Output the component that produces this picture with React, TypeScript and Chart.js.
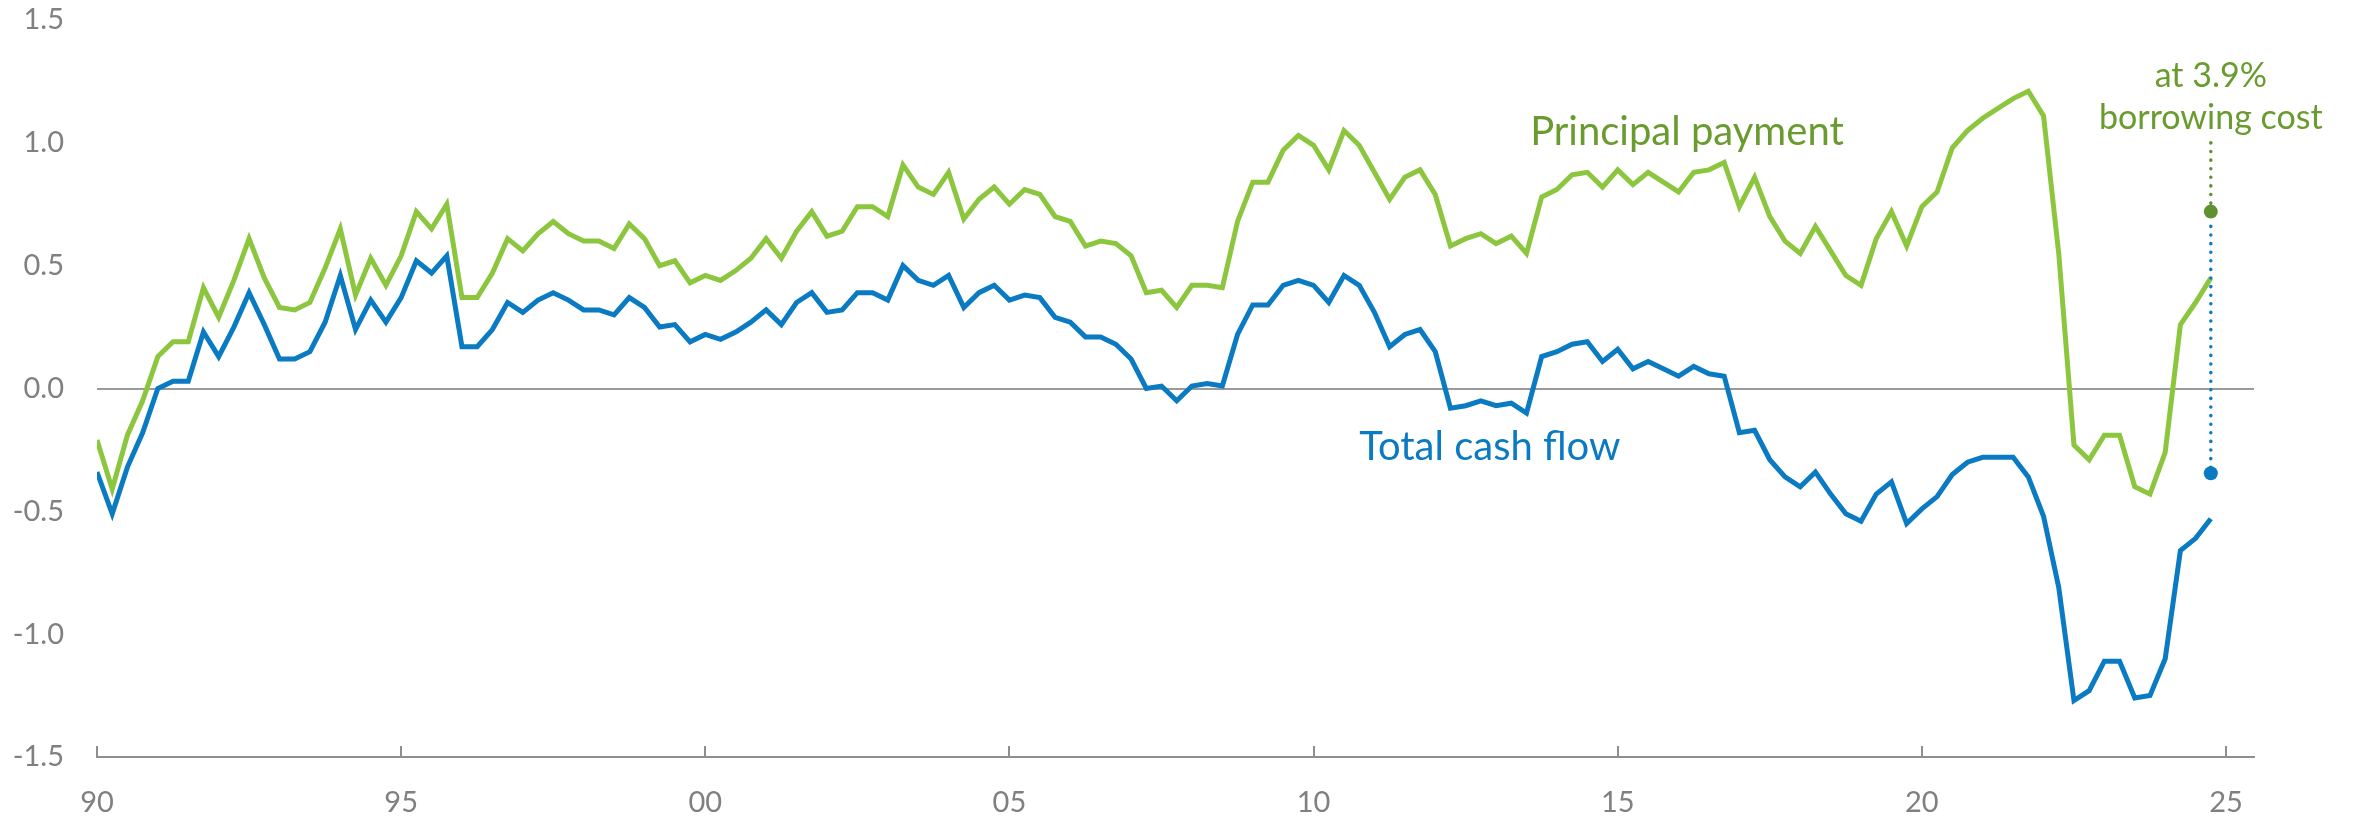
import React, { useEffect, useRef } from 'react';
import { Chart, registerables } from 'chart.js';

Chart.register(...registerables);

// Quarterly series, 1990Q1 .. 2024Q4
const FIRST_YEAR = 1990;

const principalPayment = [
  -0.21, -0.41, -0.19, -0.05, 0.13, 0.19, 0.19, 0.41, 0.29, 0.44,
  0.61, 0.45, 0.33, 0.32, 0.35, 0.49, 0.65, 0.38, 0.53, 0.42,
  0.54, 0.72, 0.65, 0.75, 0.37, 0.37, 0.47, 0.61, 0.56, 0.63,
  0.68, 0.63, 0.60, 0.60, 0.57, 0.67, 0.61, 0.50, 0.52, 0.43,
  0.46, 0.44, 0.48, 0.53, 0.61, 0.53, 0.64, 0.72, 0.62, 0.64,
  0.74, 0.74, 0.70, 0.91, 0.82, 0.79, 0.88, 0.69, 0.77, 0.82,
  0.75, 0.81, 0.79, 0.70, 0.68, 0.58, 0.60, 0.59, 0.54, 0.39,
  0.40, 0.33, 0.42, 0.42, 0.41, 0.68, 0.84, 0.84, 0.97, 1.03,
  0.99, 0.89, 1.05, 0.99, 0.88, 0.77, 0.86, 0.89, 0.79, 0.58,
  0.61, 0.63, 0.59, 0.62, 0.55, 0.78, 0.81, 0.87, 0.88, 0.82,
  0.89, 0.83, 0.88, 0.84, 0.80, 0.88, 0.89, 0.92, 0.74, 0.86,
  0.70, 0.60, 0.55, 0.66, 0.56, 0.46, 0.42, 0.61, 0.72, 0.58,
  0.74, 0.80, 0.98, 1.05, 1.10, 1.14, 1.18, 1.21, 1.11, 0.55,
  -0.23, -0.29, -0.19, -0.19, -0.40, -0.43, -0.26, 0.26, 0.35, 0.45,
];

const totalCashFlow = [
  -0.34, -0.51, -0.32, -0.18, 0.00, 0.03, 0.03, 0.23, 0.13, 0.25,
  0.39, 0.26, 0.12, 0.12, 0.15, 0.27, 0.46, 0.24, 0.36, 0.27,
  0.37, 0.52, 0.47, 0.54, 0.17, 0.17, 0.24, 0.35, 0.31, 0.36,
  0.39, 0.36, 0.32, 0.32, 0.30, 0.37, 0.33, 0.25, 0.26, 0.19,
  0.22, 0.20, 0.23, 0.27, 0.32, 0.26, 0.35, 0.39, 0.31, 0.32,
  0.39, 0.39, 0.36, 0.50, 0.44, 0.42, 0.46, 0.33, 0.39, 0.42,
  0.36, 0.38, 0.37, 0.29, 0.27, 0.21, 0.21, 0.18, 0.12, 0.00,
  0.01, -0.05, 0.01, 0.02, 0.01, 0.22, 0.34, 0.34, 0.42, 0.44,
  0.42, 0.35, 0.46, 0.42, 0.31, 0.17, 0.22, 0.24, 0.15, -0.08,
  -0.07, -0.05, -0.07, -0.06, -0.10, 0.13, 0.15, 0.18, 0.19, 0.11,
  0.16, 0.08, 0.11, 0.08, 0.05, 0.09, 0.06, 0.05, -0.18, -0.17,
  -0.29, -0.36, -0.40, -0.34, -0.43, -0.51, -0.54, -0.43, -0.38, -0.55,
  -0.49, -0.44, -0.35, -0.30, -0.28, -0.28, -0.28, -0.36, -0.52, -0.81,
  -1.27, -1.23, -1.11, -1.11, -1.26, -1.25, -1.10, -0.66, -0.61, -0.53,
];

// "at 3.9% borrowing cost" scenario
const scenarioX = 2024.75;
const scenarioPrincipal = 0.72;
const scenarioCashFlow = -0.345;
const scenarioGuideTop = 1.0;
const scenarioGuideMid = 0.66;

const xTickYears = [1990, 1995, 2000, 2005, 2010, 2015, 2020, 2025];
const xTickLabels = ['90', '95', '00', '05', '10', '15', '20', '25'];
const yTickValues = [-1.5, -1.0, -0.5, 0.0, 0.5, 1.0, 1.5];

const GREEN = '#8cc63f';
const GREEN_TEXT = '#6a9b2f';
const GREEN_DOT = '#5f9130';
const BLUE = '#0a7bc2';
const GREY_TEXT = '#808080';
const AXIS = '#8e8e8e';
const FONT = 'Lato, "Liberation Sans", sans-serif';

const toPoints = (vals: number[]) =>
  vals.map((v, i) => ({ x: FIRST_YEAR + i / 4, y: v }));

const overlayPlugin = {
  id: 'overlay',
  afterDatasetsDraw(chart: any) {
    const { ctx } = chart;
    const x = chart.scales.x;
    const y = chart.scales.y;
    ctx.save();
    // inward tick marks on x axis
    ctx.strokeStyle = AXIS;
    ctx.lineWidth = 2;
    xTickYears.forEach((yr) => {
      const px = Math.round(x.getPixelForValue(yr));
      ctx.beginPath();
      ctx.moveTo(px, y.bottom);
      ctx.lineTo(px, y.bottom - 11);
      ctx.stroke();
    });
    // series labels
    ctx.textBaseline = 'alphabetic';
    ctx.textAlign = 'left';
    ctx.font = `40px ${FONT}`;
    ctx.fillStyle = GREEN_TEXT;
    ctx.fillText('Principal payment', x.getPixelForValue(2013.56), y.getPixelForValue(0.993));
    ctx.fillStyle = BLUE;
    ctx.fillText('Total cash flow', x.getPixelForValue(2010.75), y.getPixelForValue(-0.293));
    // scenario label
    ctx.textAlign = 'center';
    ctx.font = `34px ${FONT}`;
    ctx.fillStyle = GREEN_TEXT;
    const cx = x.getPixelForValue(scenarioX);
    ctx.fillText('at 3.9%', cx, y.getPixelForValue(1.226));
    ctx.fillText('borrowing cost', cx, y.getPixelForValue(1.055));
    ctx.restore();
  },
};

export default function App() {
  const canvasRef = useRef<HTMLCanvasElement | null>(null);

  useEffect(() => {
    const canvas = canvasRef.current;
    if (!canvas) return;
    const chart = new Chart(canvas, {
      type: 'line',
      data: {
        datasets: [
          {
            label: 'Principal payment',
            data: toPoints(principalPayment),
            borderColor: GREEN,
            borderWidth: 5,
            pointRadius: 0,
            tension: 0,
            fill: false,
            order: 3,
          },
          {
            label: 'Total cash flow',
            data: toPoints(totalCashFlow),
            borderColor: BLUE,
            borderWidth: 5,
            pointRadius: 0,
            tension: 0,
            fill: false,
            order: 2,
          },
          {
            label: 'Principal at 3.9%',
            data: [
              { x: scenarioX, y: scenarioGuideTop },
              { x: scenarioX, y: scenarioPrincipal },
            ],
            borderColor: GREEN_DOT,
            borderWidth: 3.5,
            borderDash: [0.1, 8.5],
            borderCapStyle: 'round',
            pointRadius: [0, 7],
            pointBackgroundColor: GREEN_DOT,
            pointBorderWidth: 0,
            fill: false,
            order: 1,
          },
          {
            label: 'Cash flow at 3.9%',
            data: [
              { x: scenarioX, y: scenarioGuideMid },
              { x: scenarioX, y: scenarioCashFlow },
            ],
            borderColor: BLUE,
            borderWidth: 3.5,
            borderDash: [0.1, 8.5],
            borderCapStyle: 'round',
            pointRadius: [0, 7],
            pointBackgroundColor: BLUE,
            pointBorderWidth: 0,
            fill: false,
            order: 0,
          },
        ],
      },
      options: {
        animation: false,
        responsive: false,
        devicePixelRatio: 1,
        layout: { padding: { top: 20, right: 110, left: 0, bottom: 0 } },
        plugins: {
          legend: { display: false },
          tooltip: { enabled: false },
        },
        scales: {
          x: {
            type: 'linear',
            min: 1990,
            max: 2025.46,
            afterBuildTicks: (s: any) => {
              s.ticks = xTickYears.map((v) => ({ value: v }));
            },
            afterFit: (s: any) => {
              s.height = 64;
              s.paddingLeft = 0;
              s.paddingRight = 0;
            },
            ticks: {
              callback: (_v: any, i: number) => xTickLabels[i],
              color: GREY_TEXT,
              font: { family: FONT, size: 29 },
              padding: 28,
              maxRotation: 0,
              autoSkip: false,
            },
            grid: { display: true, drawOnChartArea: false, drawTicks: false },
            border: { display: true, color: AXIS, width: 2 },
          },
          y: {
            type: 'linear',
            min: -1.5,
            max: 1.5,
            afterBuildTicks: (s: any) => {
              s.ticks = yTickValues.map((v) => ({ value: v }));
            },
            afterFit: (s: any) => {
              s.width = 97;
              s.paddingTop = 0;
              s.paddingBottom = 0;
            },
            ticks: {
              callback: (v: any) => Number(v).toFixed(1),
              color: GREY_TEXT,
              font: { family: FONT, size: 29 },
              padding: 33,
            },
            grid: {
              drawTicks: false,
              lineWidth: 2,
              color: (c: any) =>
                c.tick && c.tick.value === 0 ? '#9a9a9a' : 'rgba(0,0,0,0)',
            },
            border: { display: false },
          },
        },
      },
      plugins: [overlayPlugin],
    } as any);
    return () => chart.destroy();
  }, []);

  return (
    <div style={{ position: 'fixed', left: 0, top: 0, width: 2364, height: 821, background: '#fff' }}>
      <canvas ref={canvasRef} width={2364} height={821} style={{ display: 'block' }} />
    </div>
  );
}
